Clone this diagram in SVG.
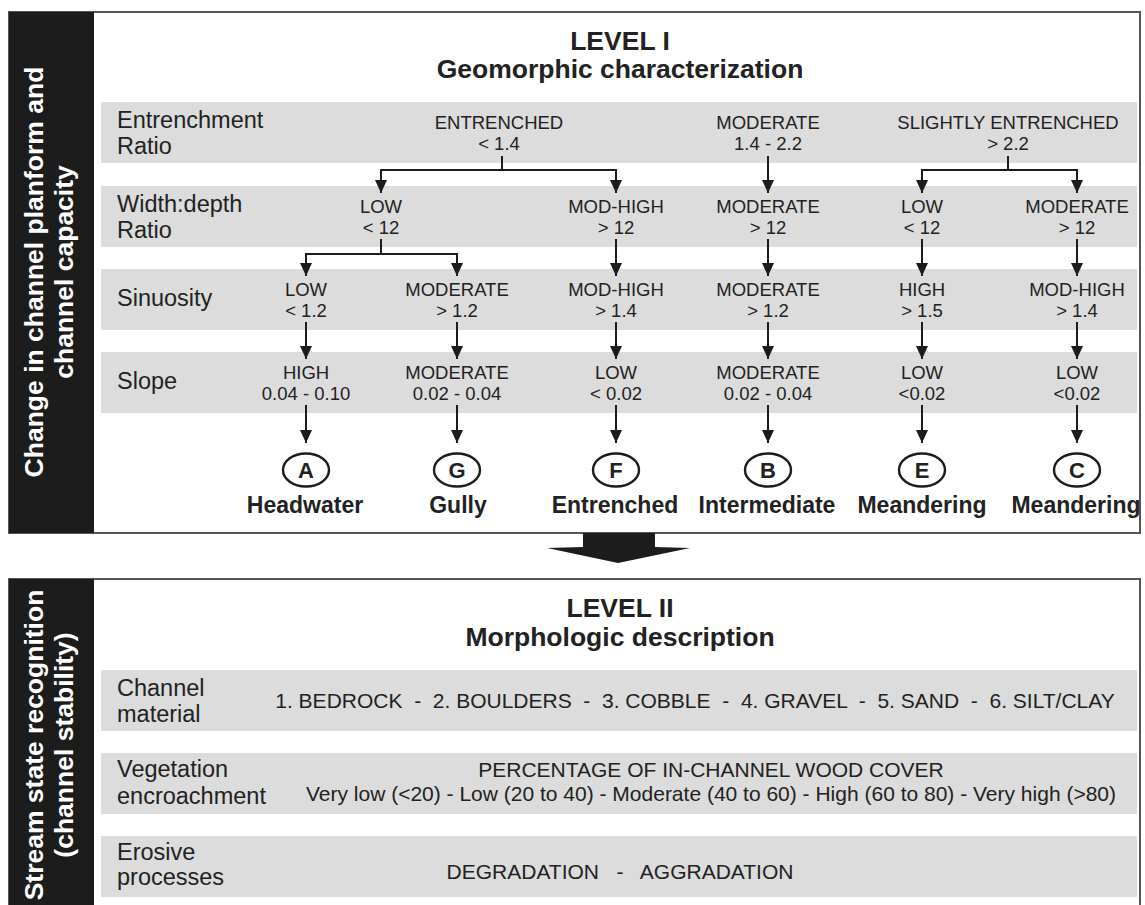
<svg xmlns="http://www.w3.org/2000/svg" width="1145" height="905" viewBox="0 0 1145 905">
<defs>
<style>
text{font-family:"Liberation Sans",Arial,sans-serif;fill:#222}
.side{fill:#fff;font-weight:bold;font-size:26.5px;text-anchor:middle}
.title{font-weight:bold;font-size:26.5px;text-anchor:middle}
.lab{font-size:23.5px}
.val{font-size:18.5px;text-anchor:middle}
.val2{font-size:21px;text-anchor:middle}
.cat{font-weight:bold;font-size:23px;text-anchor:middle}
.let{font-weight:bold;font-size:22px;text-anchor:middle}
.row{fill:#dcdcdc}
.panel{fill:#fff;stroke:#555;stroke-width:2}
.bar{fill:#1c1c1c}
.con{fill:none;stroke:#1c1c1c;stroke-width:2}
.circ{fill:#fff;stroke:#1c1c1c;stroke-width:2.4}
</style>
<marker id="ah" markerUnits="userSpaceOnUse" markerWidth="13" markerHeight="12" refX="13" refY="6" orient="auto" viewBox="0 0 13 12">
<path d="M0,0 L13,6 L0,12 z" fill="#1c1c1c"/>
</marker>
</defs>
<rect width="1145" height="905" fill="#fff"/>

<g id="panel1">
<rect class="panel" x="9" y="12" width="1131" height="521"/>
<rect class="bar" x="9" y="12" width="85" height="521"/>
<text class="side" transform="translate(43,272) rotate(-90)">Change in channel planform and</text>
<text class="side" transform="translate(73,272) rotate(-90)">channel capacity</text>
<text class="title" x="620" y="50">LEVEL I</text>
<text class="title" x="620" y="78">Geomorphic characterization</text>
</g>

<g id="rows1">
<rect class="row" x="101" y="102" width="1036" height="61"/>
<rect class="row" x="101" y="186" width="1036" height="61"/>
<rect class="row" x="101" y="269" width="1036" height="61"/>
<rect class="row" x="101" y="352" width="1036" height="61"/>
<text class="lab" x="117" y="128">Entrenchment</text>
<text class="lab" x="117" y="154">Ratio</text>
<text class="lab" x="117" y="212">Width:depth</text>
<text class="lab" x="117" y="238">Ratio</text>
<text class="lab" x="117" y="306">Sinuosity</text>
<text class="lab" x="117" y="389">Slope</text>
</g>

<g id="r1-entrenched"><text class="val" x="499" y="129">ENTRENCHED</text><text class="val" x="499" y="150">&lt; 1.4</text></g>
<g id="r1-moderate"><text class="val" x="768" y="129">MODERATE</text><text class="val" x="768" y="150">1.4 - 2.2</text></g>
<g id="r1-slightly"><text class="val" x="1008" y="129">SLIGHTLY ENTRENCHED</text><text class="val" x="1008" y="150">&gt; 2.2</text></g>

<g id="r2-low1"><text class="val" x="381" y="213">LOW</text><text class="val" x="381" y="234">&lt; 12</text></g>
<g id="r2-modhigh"><text class="val" x="616" y="213">MOD-HIGH</text><text class="val" x="616" y="234">&gt; 12</text></g>
<g id="r2-moderate1"><text class="val" x="768" y="213">MODERATE</text><text class="val" x="768" y="234">&gt; 12</text></g>
<g id="r2-low2"><text class="val" x="922" y="213">LOW</text><text class="val" x="922" y="234">&lt; 12</text></g>
<g id="r2-moderate2"><text class="val" x="1077" y="213">MODERATE</text><text class="val" x="1077" y="234">&gt; 12</text></g>

<g id="r3-a"><text class="val" x="306" y="296">LOW</text><text class="val" x="306" y="317">&lt; 1.2</text></g>
<g id="r3-g"><text class="val" x="457" y="296">MODERATE</text><text class="val" x="457" y="317">&gt; 1.2</text></g>
<g id="r3-f"><text class="val" x="616" y="296">MOD-HIGH</text><text class="val" x="616" y="317">&gt; 1.4</text></g>
<g id="r3-b"><text class="val" x="768" y="296">MODERATE</text><text class="val" x="768" y="317">&gt; 1.2</text></g>
<g id="r3-e"><text class="val" x="922" y="296">HIGH</text><text class="val" x="922" y="317">&gt; 1.5</text></g>
<g id="r3-c"><text class="val" x="1077" y="296">MOD-HIGH</text><text class="val" x="1077" y="317">&gt; 1.4</text></g>

<g id="r4-a"><text class="val" x="306" y="379">HIGH</text><text class="val" x="306" y="400">0.04 - 0.10</text></g>
<g id="r4-g"><text class="val" x="457" y="379">MODERATE</text><text class="val" x="457" y="400">0.02 - 0.04</text></g>
<g id="r4-f"><text class="val" x="616" y="379">LOW</text><text class="val" x="616" y="400">&lt; 0.02</text></g>
<g id="r4-b"><text class="val" x="768" y="379">MODERATE</text><text class="val" x="768" y="400">0.02 - 0.04</text></g>
<g id="r4-e"><text class="val" x="922" y="379">LOW</text><text class="val" x="922" y="400">&lt;0.02</text></g>
<g id="r4-c"><text class="val" x="1077" y="379">LOW</text><text class="val" x="1077" y="400">&lt;0.02</text></g>

<g id="type-a"><ellipse class="circ" cx="306" cy="470" rx="23" ry="16.5"/><text class="let" x="306" y="478">A</text><text class="cat" x="305" y="513">Headwater</text></g>
<g id="type-g"><ellipse class="circ" cx="457" cy="470" rx="23" ry="16.5"/><text class="let" x="457" y="478">G</text><text class="cat" x="458" y="513">Gully</text></g>
<g id="type-f"><ellipse class="circ" cx="616" cy="470" rx="23" ry="16.5"/><text class="let" x="616" y="478">F</text><text class="cat" x="615" y="513">Entrenched</text></g>
<g id="type-b"><ellipse class="circ" cx="768" cy="470" rx="23" ry="16.5"/><text class="let" x="768" y="478">B</text><text class="cat" x="767" y="513">Intermediate</text></g>
<g id="type-e"><ellipse class="circ" cx="922" cy="470" rx="23" ry="16.5"/><text class="let" x="922" y="478">E</text><text class="cat" x="922" y="513">Meandering</text></g>
<g id="type-c"><ellipse class="circ" cx="1077" cy="470" rx="23" ry="16.5"/><text class="let" x="1077" y="478">C</text><text class="cat" x="1076" y="513">Meandering</text></g>

<g id="connectors">
<path class="con" d="M502,156 V170 H381 V193" marker-end="url(#ah)"/>
<path class="con" d="M502,170 H616 V193" marker-end="url(#ah)"/>
<path class="con" d="M768,156 V193" marker-end="url(#ah)"/>
<path class="con" d="M1008,156 V170 H922 V193" marker-end="url(#ah)"/>
<path class="con" d="M1008,170 H1077 V193" marker-end="url(#ah)"/>
<path class="con" d="M381,239 V254 H306 V276" marker-end="url(#ah)"/>
<path class="con" d="M381,254 H457 V276" marker-end="url(#ah)"/>
<path class="con" d="M616,239 V276" marker-end="url(#ah)"/>
<path class="con" d="M768,239 V276" marker-end="url(#ah)"/>
<path class="con" d="M922,239 V276" marker-end="url(#ah)"/>
<path class="con" d="M1077,239 V276" marker-end="url(#ah)"/>
<path class="con" d="M306,322 V359" marker-end="url(#ah)"/>
<path class="con" d="M457,322 V359" marker-end="url(#ah)"/>
<path class="con" d="M616,322 V359" marker-end="url(#ah)"/>
<path class="con" d="M768,322 V359" marker-end="url(#ah)"/>
<path class="con" d="M922,322 V359" marker-end="url(#ah)"/>
<path class="con" d="M1077,322 V359" marker-end="url(#ah)"/>
<path class="con" d="M306,405 V443" marker-end="url(#ah)"/>
<path class="con" d="M457,405 V443" marker-end="url(#ah)"/>
<path class="con" d="M616,405 V443" marker-end="url(#ah)"/>
<path class="con" d="M768,405 V443" marker-end="url(#ah)"/>
<path class="con" d="M922,405 V443" marker-end="url(#ah)"/>
<path class="con" d="M1077,405 V443" marker-end="url(#ah)"/>
<polygon points="583,533 655,533 655,547 690,548 618,563 547,548 583,547" fill="#1c1c1c"/>
</g>

<g id="panel2">
<rect class="panel" x="9" y="579" width="1131" height="340"/>
<rect class="bar" x="9" y="579" width="85" height="330"/>
<text class="side" transform="translate(43,745) rotate(-90)">Stream state recognition</text>
<text class="side" transform="translate(73,745) rotate(-90)">(channel stability)</text>
<text class="title" x="620" y="617">LEVEL II</text>
<text class="title" x="620" y="646">Morphologic description</text>
</g>

<g id="channel-material">
<rect class="row" x="101" y="670" width="1036" height="61"/>
<text class="lab" x="117" y="696">Channel</text>
<text class="lab" x="117" y="722">material</text>
<text class="val2" x="695" y="708" xml:space="preserve">1. BEDROCK  -  2. BOULDERS  -  3. COBBLE  -  4. GRAVEL  -  5. SAND  -  6. SILT/CLAY</text>
</g>
<g id="vegetation">
<rect class="row" x="101" y="753" width="1036" height="61"/>
<text class="lab" x="117" y="777">Vegetation</text>
<text class="lab" x="117" y="804">encroachment</text>
<text class="val2" x="711" y="777">PERCENTAGE OF IN-CHANNEL WOOD COVER</text>
<text class="val2" x="711" y="801">Very low (&lt;20) - Low (20 to 40) - Moderate (40 to 60) - High (60 to 80) - Very high (&gt;80)</text>
</g>
<g id="erosive">
<rect class="row" x="101" y="836" width="1036" height="61"/>
<text class="lab" x="117" y="860">Erosive</text>
<text class="lab" x="117" y="885">processes</text>
<text class="val2" x="620" y="879" xml:space="preserve">DEGRADATION   -   AGGRADATION</text>
</g>
</svg>
